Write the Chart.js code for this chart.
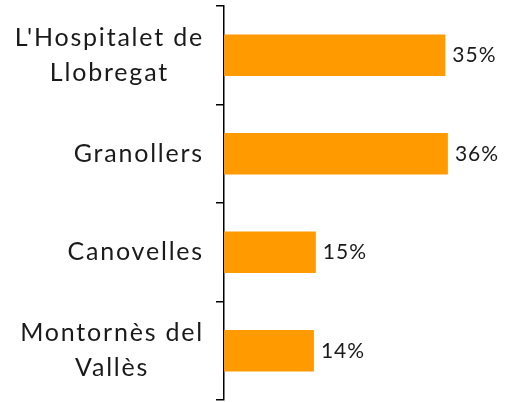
<!DOCTYPE html>
<html>
<head>
<meta charset="utf-8">
<script src="https://cdn.jsdelivr.net/npm/chart.js@4"></script>
<style>
  html, body { margin: 0; padding: 0; background: #fff; }
  #wrap { width: 507px; height: 402px; position: relative; }
</style>
</head>
<body>
<div id="wrap"><canvas id="myChart"></canvas></div>
<script>
// categories (multi-line labels as arrays)
const municipis = [
  ["L'Hospitalet de", "Llobregat"],
  ["Granollers"],
  ["Canovelles"],
  ["Montornès del", "Vallès"]
];
// percentages
const valors = [35.2, 35.6, 14.6, 14.3];
const etiquetes = ["35%", "36%", "15%", "14%"];

const taronja = "#FF9A00";
const fontFam = "Lato, 'DejaVu Sans', sans-serif";

// draw category labels by hand so lines are centred in a right-aligned block
const etiquetesEix = {
  id: "etiquetesEix",
  afterDraw(chart) {
    const ctx = chart.ctx;
    const y = chart.scales.y;
    const eixX = chart.chartArea.left;
    ctx.save();
    ctx.font = "25px " + fontFam;
    ctx.letterSpacing = "1.8px";
    ctx.fillStyle = "#1a1a1a";
    ctx.textAlign = "center";
    ctx.textBaseline = "middle";
    municipis.forEach((linies, i) => {
      const cy = y.getPixelForValue(i);
      let maxW = 0;
      linies.forEach(l => { maxW = Math.max(maxW, ctx.measureText(l).width); });
      const cx = eixX - 20 - maxW / 2;
      const salt = 35;
      const inici = cy - (linies.length - 1) * salt / 2;
      linies.forEach((l, k) => ctx.fillText(l, cx, inici + k * salt));
    });
    ctx.restore();
  }
};

// value labels after each bar
const etiquetesValor = {
  id: "etiquetesValor",
  afterDatasetsDraw(chart) {
    const ctx = chart.ctx;
    const meta = chart.getDatasetMeta(0);
    ctx.save();
    ctx.font = "21px " + fontFam;
    ctx.letterSpacing = "1px";
    ctx.fillStyle = "#1a1a1a";
    ctx.textAlign = "left";
    ctx.textBaseline = "middle";
    meta.data.forEach((bar, i) => {
      ctx.fillText(etiquetes[i], bar.x + 7, bar.y);
    });
    ctx.restore();
  }
};

const chart = new Chart(document.getElementById("myChart"), {
  type: "bar",
  data: {
    labels: municipis.map(l => l.join(" ")),
    datasets: [{
      data: valors,
      backgroundColor: taronja,
      borderWidth: 0,
      barPercentage: 0.42,
      categoryPercentage: 1
    }]
  },
  options: {
    indexAxis: "y",
    responsive: true,
    maintainAspectRatio: false,
    animation: false,
    layout: { padding: { left: 216, top: 6, bottom: 2, right: 0 } },
    plugins: { legend: { display: false }, tooltip: { enabled: false } },
    scales: {
      x: { display: false, min: 0, max: 45 },
      y: {
        grid: {
          offset: true,
          drawOnChartArea: false,
          drawTicks: true,
          tickLength: 8,
          color: "#000",
          lineWidth: 1.5
        },
        border: { display: true, color: "#000", width: 1.5 },
        ticks: { display: false }
      }
    }
  },
  plugins: [etiquetesEix, etiquetesValor]
});
</script>
</body>
</html>
